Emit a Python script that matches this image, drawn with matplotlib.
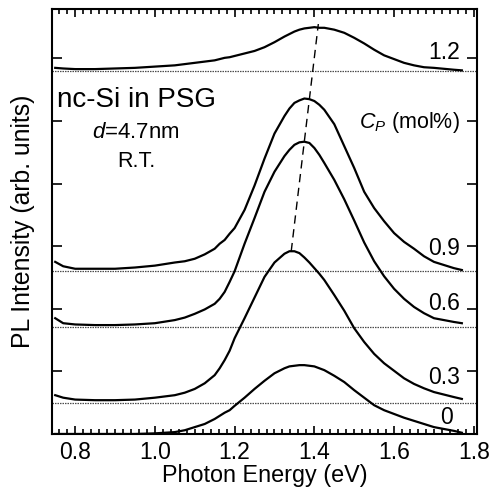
import matplotlib
matplotlib.use("Agg")
import matplotlib.pyplot as plt
from matplotlib.ticker import MultipleLocator

plt.rcParams['font.family'] = ['Liberation Sans', 'DejaVu Sans']
plt.rcParams['mathtext.fontset'] = 'custom'
plt.rcParams['mathtext.rm'] = 'Liberation Sans'
plt.rcParams['mathtext.it'] = 'Liberation Sans:italic'

# photon energy grid (eV)
energy = [0.75, 0.77, 0.80, 0.85, 0.90, 0.95, 1.00, 1.05,
          1.075, 1.10, 1.125, 1.15, 1.1625, 1.175, 1.1875, 1.20,
          1.225, 1.25, 1.275, 1.30, 1.325, 1.3375, 1.35, 1.3625,
          1.375, 1.3875, 1.40, 1.4125, 1.425, 1.45, 1.475, 1.50,
          1.525, 1.55, 1.575, 1.60, 1.625, 1.65, 1.675, 1.70,
          1.75, 1.77]

# PL spectra, offset vertically (arb. units)
pl_00 = [0.00, 0.00, 0.00, 0.00, 0.00, 0.00, 0.01, 0.03,
         0.06, 0.11, 0.16, 0.24, 0.29, 0.34, 0.38, 0.45,
         0.58, 0.72, 0.85, 0.97, 1.05, 1.08, 1.09, 1.10,
         1.10, 1.09, 1.08, 1.05, 1.02, 0.93, 0.83, 0.70,
         0.58, 0.46, 0.38, 0.32, 0.26, 0.21, 0.16, 0.11,
         0.05, 0.02]
pl_03 = [0.62, 0.58, 0.55, 0.54, 0.54, 0.55, 0.58, 0.62,
         0.66, 0.72, 0.81, 0.94, 1.05, 1.18, 1.33, 1.53,
         1.85, 2.18, 2.51, 2.74, 2.88, 2.92, 2.92, 2.89,
         2.82, 2.74, 2.65, 2.56, 2.46, 2.22, 1.97, 1.69,
         1.47, 1.28, 1.13, 1.01, 0.89, 0.80, 0.73, 0.67,
         0.59, 0.56]
pl_06 = [1.85, 1.77, 1.75, 1.74, 1.74, 1.75, 1.77, 1.82,
         1.86, 1.92, 1.99, 2.08, 2.16, 2.27, 2.43, 2.60,
         3.04, 3.45, 3.87, 4.19, 4.44, 4.54, 4.62, 4.66,
         4.67, 4.65, 4.57, 4.46, 4.33, 4.06, 3.75, 3.41,
         3.06, 2.76, 2.52, 2.32, 2.16, 2.03, 1.93, 1.85,
         1.79, 1.77]
pl_09 = [2.75, 2.68, 2.64, 2.64, 2.64, 2.66, 2.69, 2.74,
         2.76, 2.80, 2.87, 2.96, 3.04, 3.10, 3.20, 3.29,
         3.58, 3.97, 4.40, 4.80, 5.08, 5.20, 5.29, 5.33,
         5.36, 5.35, 5.32, 5.26, 5.18, 4.95, 4.60, 4.25,
         3.87, 3.61, 3.40, 3.21, 3.07, 2.96, 2.84, 2.75,
         2.65, 2.62]
pl_12 = [5.85, 5.84, 5.83, 5.83, 5.84, 5.85, 5.87, 5.89,
         5.91, 5.93, 5.95, 5.97, 5.99, 6.01, 6.02, 6.04,
         6.08, 6.12, 6.18, 6.26, 6.35, 6.39, 6.43, 6.46,
         6.48, 6.49, 6.50, 6.49, 6.49, 6.46, 6.41, 6.33,
         6.24, 6.14, 6.05, 5.99, 5.93, 5.89, 5.86, 5.85,
         5.82, 5.81]

spectra = [pl_00, pl_03, pl_06, pl_09, pl_12]
baselines = [0.0, 0.50, 1.71, 2.60, 5.80]
cp_labels = ['0', '0.3', '0.6', '0.9', '1.2']

# peak shift guide
peak_line_e = [1.342, 1.410]
peak_line_y = [2.92, 6.55]

fig = plt.figure(figsize=(4.94, 4.93), dpi=100)
ax = fig.add_axes([0.1053, 0.1197, 0.8603, 0.8620])

for base in baselines[1:]:
    ax.axhline(base, color='0.3', lw=0.9, ls=(0, (1.2, 0.8)), zorder=1)

for y in spectra:
    ax.plot(energy, y, color='black', lw=1.6, zorder=3,
            solid_joinstyle='round')

ax.plot(peak_line_e, peak_line_y, color='black', lw=1.0,
        ls=(0, (6, 4)), zorder=4)

# concentration labels on the right
label_y = [0.27, 0.91, 2.09, 2.97, 6.09]
for lab, ly in zip(cp_labels, label_y):
    if lab == '0':
        ax.text(1.731, ly, lab, fontsize=16.5, ha='center', va='center')
    else:
        ax.text(1.765, ly, lab, fontsize=16.5, ha='right', va='center')
ax.text(1.765, 4.98, r'$C_P$ (mol%)', fontsize=15.5, ha='right', va='center')

ax.text(0.755, 5.34, 'nc-Si in PSG', fontsize=20, ha='left', va='center')
ax.text(0.953, 4.82, r'$d$=4.7nm', fontsize=16, ha='center', va='center')
ax.text(0.953, 4.35, 'R.T.', fontsize=15.5, ha='center', va='center')

ax.set_xlim(0.742, 1.808)
ax.set_ylim(0, 6.79)
ax.xaxis.set_major_locator(MultipleLocator(0.2))
ax.xaxis.set_minor_locator(MultipleLocator(0.02))
ax.yaxis.set_major_locator(MultipleLocator(1))
ax.tick_params(which='both', direction='in', top=True, right=True,
               width=1.2, labelsize=16.5)
ax.tick_params(axis='x', which='major', length=6, pad=5)
ax.tick_params(axis='x', which='minor', length=3.5)
ax.tick_params(axis='y', which='major', length=7, labelleft=False)
for sp in ax.spines.values():
    sp.set_linewidth(1.5)

ax.set_xlabel('Photon Energy (eV)', fontsize=16.8)
ax.set_ylabel('PL Intensity (arb. units)', fontsize=17.8)
ax.xaxis.set_label_coords(0.5, -0.07)
ax.yaxis.set_label_coords(-0.04, 0.5)

fig.savefig('out.png', dpi=100)
